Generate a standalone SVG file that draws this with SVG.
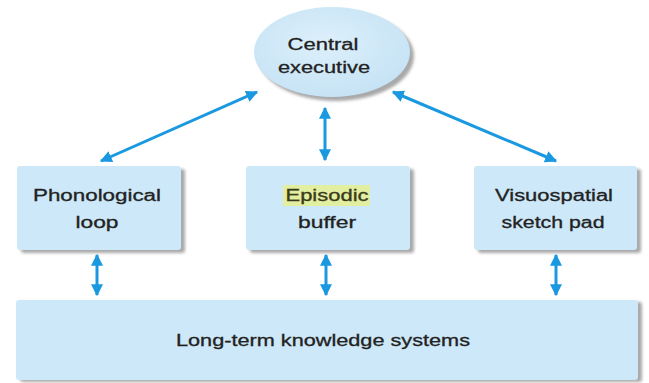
<svg xmlns="http://www.w3.org/2000/svg" width="649" height="383" viewBox="0 0 649 383">
<style>
.box{fill:#cde8f8;}
.shadow{fill:#a9a9a9;filter:url(#blur);}
.lbl{font-family:"Liberation Sans",Arial,sans-serif;font-size:16px;fill:#222;text-anchor:middle;stroke:#222;stroke-width:0.3;}
.arr{stroke:#1a98e0;stroke-width:3;fill:none;marker-start:url(#ah);marker-end:url(#ah);}
</style>
<defs>
<filter id="blur" x="-10%" y="-10%" width="120%" height="130%"><feGaussianBlur stdDeviation="1.5"/></filter>
<marker id="ah" viewBox="0 0 10 10" refX="9" refY="5" markerWidth="4" markerHeight="4" orient="auto-start-reverse" markerUnits="strokeWidth">
<path d="M0,0 L10,5 L0,10 z" fill="#1a98e0"/>
</marker>
<radialGradient id="eg" cx="0.45" cy="0.4" r="0.6">
<stop offset="0" stop-color="#ddf0fb"/>
<stop offset="1" stop-color="#c6e3f5"/>
</radialGradient>
</defs>

<g id="connectors">
<line class="arr" x1="257" y1="92" x2="101" y2="161"/>
<line class="arr" x1="393" y1="92" x2="556" y2="161"/>
<line class="arr" x1="325" y1="108" x2="325" y2="160"/>
<line class="arr" x1="97" y1="255" x2="97" y2="295"/>
<line class="arr" x1="326" y1="255" x2="326" y2="295"/>
<line class="arr" x1="556" y1="255" x2="556" y2="295"/>
</g>

<g id="central-executive">
<ellipse class="shadow" cx="336" cy="56" rx="78" ry="45"/>
<ellipse cx="332" cy="52" rx="78" ry="45" fill="url(#eg)"/>
<text class="lbl" x="323" y="50" textLength="71" lengthAdjust="spacingAndGlyphs">Central</text>
<text class="lbl" x="324" y="73" textLength="92" lengthAdjust="spacingAndGlyphs">executive</text>
</g>

<g id="phonological-loop">
<rect class="shadow" x="21" y="169" width="164" height="84" rx="3"/>
<rect class="box" x="17" y="166" width="164" height="84" rx="3"/>
<text class="lbl" x="97" y="201" textLength="128" lengthAdjust="spacingAndGlyphs">Phonological</text>
<text class="lbl" x="97" y="228" textLength="43" lengthAdjust="spacingAndGlyphs">loop</text>
</g>

<g id="episodic-buffer">
<rect class="shadow" x="250" y="169" width="164" height="84" rx="3"/>
<rect class="box" x="246" y="166" width="164" height="84" rx="3"/>
<rect x="283" y="185" width="87" height="21" fill="#e2eea0"/>
<text class="lbl" x="327" y="201" textLength="83" lengthAdjust="spacingAndGlyphs" style="fill:#3a3a1a;stroke:#3a3a1a">Episodic</text>
<text class="lbl" x="327" y="228" textLength="58" lengthAdjust="spacingAndGlyphs">buffer</text>
</g>

<g id="visuospatial-sketch-pad">
<rect class="shadow" x="478" y="169" width="163" height="84" rx="3"/>
<rect class="box" x="474" y="166" width="163" height="84" rx="3"/>
<text class="lbl" x="554" y="201" textLength="118" lengthAdjust="spacingAndGlyphs">Visuospatial</text>
<text class="lbl" x="553" y="228" textLength="103" lengthAdjust="spacingAndGlyphs">sketch pad</text>
</g>

<g id="long-term-knowledge">
<rect class="shadow" x="20" y="302" width="622" height="80" rx="3"/>
<rect class="box" x="16" y="300" width="622" height="80" rx="3"/>
<text class="lbl" x="323" y="346" textLength="294" lengthAdjust="spacingAndGlyphs">Long-term knowledge systems</text>
</g>
</svg>
